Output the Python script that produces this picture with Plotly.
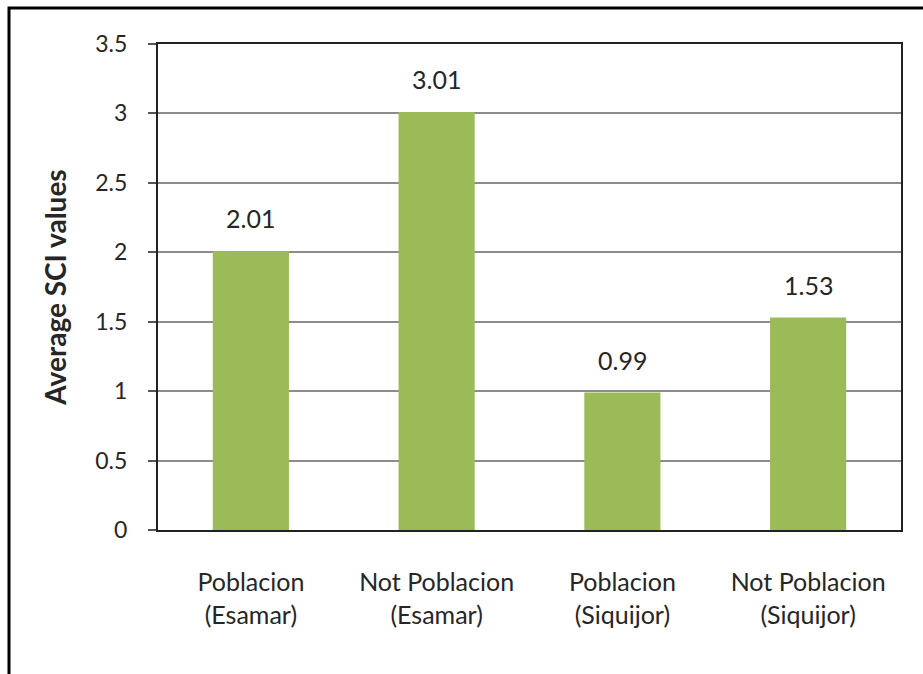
import plotly.graph_objects as go

# Average SCI per site group
categories = [
    "Poblacion<br>(Esamar)",
    "Not Poblacion<br>(Esamar)",
    "Poblacion<br>(Siquijor)",
    "Not Poblacion<br>(Siquijor)",
]
sci_values = [2.01, 3.01, 0.99, 1.53]
y_ticks = [0, 0.5, 1, 1.5, 2, 2.5, 3, 3.5]
y_tick_text = ["0", "0.5", "1", "1.5", "2", "2.5", "3", "3.5"]

FONT = "Lato, Open Sans, sans-serif"
TEXT = "#262626"
BAR = "#9BBB59"

W, H = 923, 674
L, R, T, B = 158, 22, 44, 144

fig = go.Figure(
    go.Bar(
        x=categories,
        y=sci_values,
        marker=dict(color=BAR, line=dict(width=0)),
        width=0.41,
        hoverinfo="x+y",
    )
)

# value labels sitting above each bar
for cat, val in zip(categories, sci_values):
    fig.add_annotation(
        x=cat, y=val, text=f"{val:.2f}", showarrow=False,
        yanchor="bottom", yshift=16,
        font=dict(family=FONT, size=25, color=TEXT),
    )

# outer frame around the whole chart
pw, ph = W - L - R, H - T - B
fig.add_shape(
    type="rect", xref="paper", yref="paper",
    x0=(9 - L) / pw, x1=(W + 10 - L) / pw,
    y0=(H - B - (H + 10)) / ph, y1=(H - B - 8) / ph,
    line=dict(color="black", width=3), fillcolor="rgba(0,0,0,0)",
    layer="above",
)

fig.update_layout(
    width=W, height=H,
    margin=dict(l=L, r=R, t=T, b=B, autoexpand=False),
    paper_bgcolor="white", plot_bgcolor="white",
    showlegend=False,
    font=dict(family=FONT, size=22, color=TEXT),
    xaxis=dict(
        showline=True, linecolor="#222", linewidth=2, mirror=True,
        ticks="", showgrid=False,
        tickfont=dict(family=FONT, size=25, color=TEXT),
        ticklabelstandoff=29,
    ),
    yaxis=dict(
        range=[0, 3.5], tickvals=y_ticks, ticktext=y_tick_text,
        showline=True, linecolor="#222", linewidth=2, mirror=True,
        ticks="outside", ticklen=8, tickcolor="#555", tickwidth=1.5,
        showgrid=True, gridcolor="#8c8c8c", gridwidth=1.5,
        zeroline=False,
        tickfont=dict(family=FONT, size=23, color=TEXT),
        ticklabelstandoff=16,
        title=dict(text="<b>Average SCI values</b>", standoff=20,
                   font=dict(family=FONT, size=28, color=TEXT)),
    ),
)

fig.write_html("out.html")
